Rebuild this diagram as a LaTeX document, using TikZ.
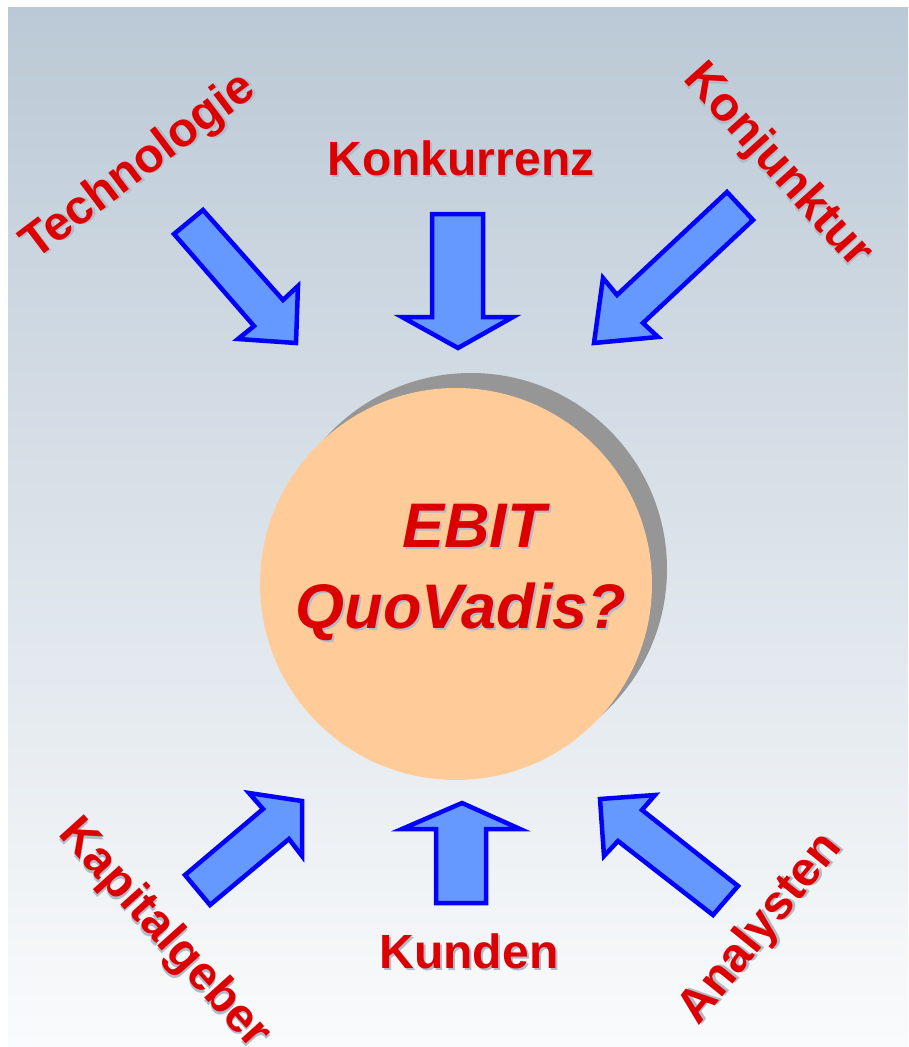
\documentclass[tikz,border=0pt]{standalone}
\usepackage{fontspec}
\setmainfont{Liberation Sans}
\usetikzlibrary{shadows}
\definecolor{bgtop}{RGB}{187,201,214}
\definecolor{bgbot}{RGB}{250,251,252}
\definecolor{txtred}{RGB}{221,0,0}
\definecolor{txtshade}{RGB}{178,186,200}
\definecolor{arrfill}{RGB}{102,153,255}
\definecolor{kernfill}{RGB}{255,204,153}
\definecolor{kernshadow}{RGB}{150,150,150}
\newcommand{\shadetext}[1]{\makebox[0pt][l]{\hspace{2pt}\raisebox{-2pt}{\color{txtshade}#1}}#1}
\begin{document}
\begin{tikzpicture}[x=1pt, y=-1pt,
  lbl/.style={text=txtred, font=\fontsize{48}{56}\selectfont\bfseries, inner sep=0pt, text height=35pt, text depth=0pt},
  big/.style={text=txtred, font=\fontsize{63}{70}\selectfont\bfseries\itshape, inner sep=0pt, anchor=base},
  pfeil/.style={draw=blue, fill=arrfill, line width=4.5pt, line join=miter}]
\useasboundingbox (0,0) rectangle (908,1047);
\shade[top color=bgtop, bottom color=bgbot] (8,7) rectangle (908,1047);
% centre
\node[circle, fill=kernfill, minimum size=392pt, drop shadow={shadow xshift=15pt, shadow yshift=15pt, fill=kernshadow, opacity=1}] (core) at (456,584) {};
\node[big] (ebit) at (474,547) {\shadetext{EBIT}};
\node[big] (quo) at (461,628) {\shadetext{QuoVadis?}};
% influences
\node[lbl, anchor=base] (konk) at (461,175) {\shadetext{Konkurrenz}};
\node[lbl, anchor=base] (kund) at (469,968) {\shadetext{Kunden}};
\foreach \nm/\x/\y/\ang/\txt in {tech/136/163/37/Technologie, konj/781/163/-48/Konjunktur, kapi/168/931/-48/Kapitalgeber, anal/757/926/51/Analysten} {
    \node[lbl, rotate=\ang] (\nm) at (\x,\y) {\shadetext{\txt}};
}
% arrows
\draw[pfeil] (174,234) -- (203,210) -- (283,300) -- (298,286) -- (296,343) -- (238,339) -- (254,326) -- cycle;
\draw[pfeil] (432,214) -- (483,214) -- (483,317) -- (513,317) -- (458,348) -- (402,317) -- (432,317) -- cycle;
\draw[pfeil] (727,192) -- (753,220) -- (643,323) -- (658,337) -- (594,343) -- (603,278) -- (617,295) -- cycle;
\draw[pfeil] (185,875) -- (210,905) -- (289,839) -- (302,856) -- (302,801) -- (249,793) -- (263,809) -- cycle;
\draw[pfeil] (462,803) -- (520,829) -- (486,829) -- (486,903) -- (436,903) -- (436,829) -- (402,829) -- cycle;
\draw[pfeil] (600,799) -- (655,795) -- (642,810) -- (738,886) -- (713,915) -- (618,841) -- (604,856) -- cycle;
\end{tikzpicture}
\end{document}
